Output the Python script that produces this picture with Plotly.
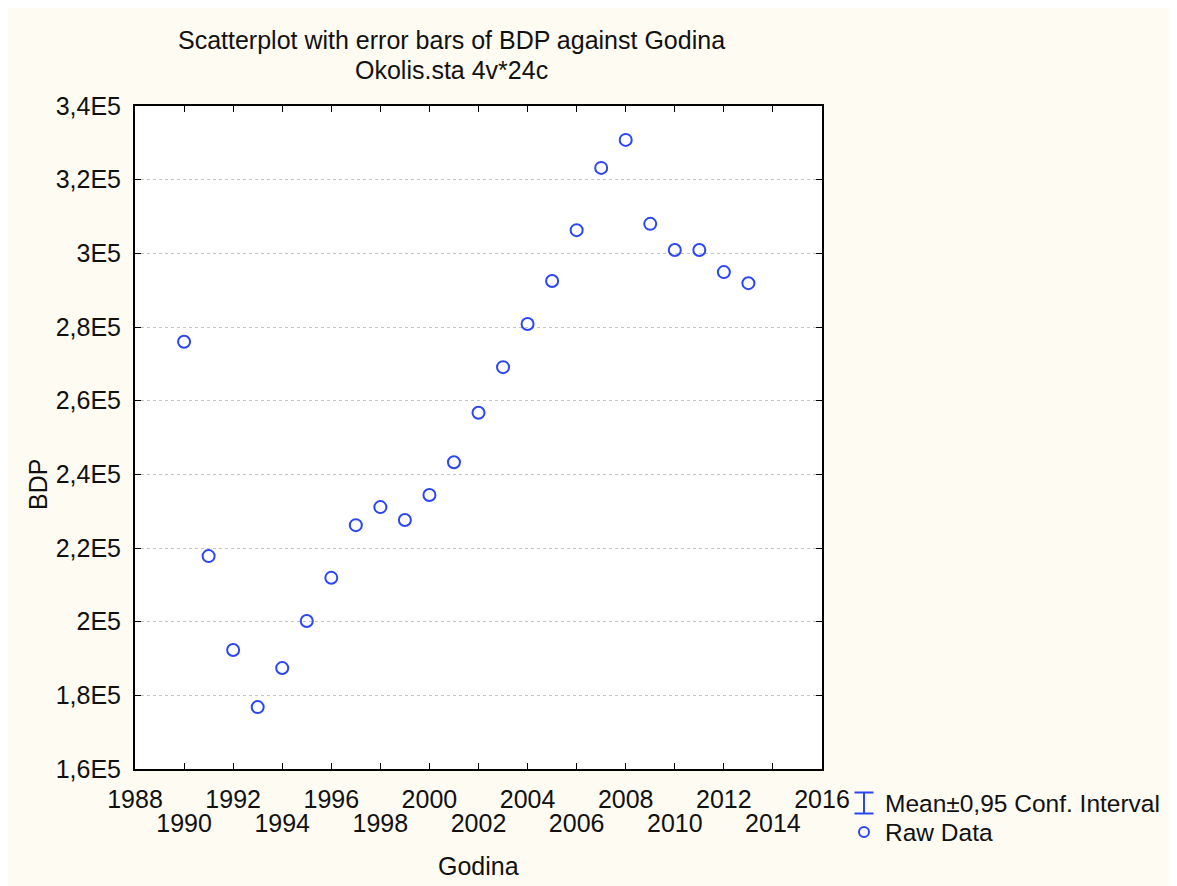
import plotly.graph_objects as go

# ---- data ----
years = [1990, 1991, 1992, 1993, 1994, 1995, 1996, 1997, 1998, 1999, 2000, 2001,
         2002, 2003, 2004, 2005, 2006, 2007, 2008, 2009, 2010, 2011, 2012, 2013]
bdp = [276000, 217800, 192300, 176800, 187400, 200200, 211900, 226200, 231100,
       227600, 234400, 243300, 256700, 269100, 280800, 292500, 306300, 323200,
       330800, 308000, 300900, 300900, 294900, 291900]

x_tick_vals = [1988, 1990, 1992, 1994, 1996, 1998, 2000, 2002, 2004, 2006, 2008,
               2010, 2012, 2014, 2016]
x_tick_row1_vals = [1988, 1992, 1996, 2000, 2004, 2008, 2012, 2016]
x_tick_row1_text = ["1988", "1992", "1996", "2000", "2004", "2008", "2012", "2016"]
x_tick_row2_vals = [1990, 1994, 1998, 2002, 2006, 2010, 2014]
x_tick_row2_text = ["1990", "1994", "1998", "2002", "2006", "2010", "2014"]

y_tick_vals = [160000, 180000, 200000, 220000, 240000, 260000, 280000, 300000,
               320000, 340000]
y_tick_text = ["1,6E5", "1,8E5", "2E5", "2,2E5", "2,4E5", "2,6E5", "2,8E5", "3E5",
               "3,2E5", "3,4E5"]

title_line1 = "Scatterplot with error bars of BDP against Godina"
title_line2 = "Okolis.sta 4v*24c"
legend_labels = ["Mean±0,95 Conf. Interval", "Raw Data"]

# ---- styling ----
W, H = 1177, 886
OFF = 8                      # page body margin
L, T = 127, 98
PW, PH = 687, 663
R = W - L - PW
B = H - T - PH
BLUE = "#2A46F5"
CREAM = "#FDFBF2"
FONT = "Liberation Sans, Arial, sans-serif"
FS = 25
TXT = "#111111"


def px_x(px):
    return (px - OFF - L) / PW


def px_y(py):
    return (OFF + T + PH - py) / PH


row1_text = []
for v in x_tick_vals:
    row1_text.append(x_tick_row1_text[x_tick_row1_vals.index(v)] if v in x_tick_row1_vals else "")

fig = go.Figure()
fig.add_trace(go.Scatter(
    x=years, y=bdp, mode="markers", showlegend=False,
    marker=dict(symbol="circle-open", size=12, color=BLUE, line=dict(width=2, color=BLUE)),
))
fig.add_trace(go.Scatter(x=[], y=[], xaxis="x2", showlegend=False))

fig.update_layout(
    width=W, height=H,
    margin=dict(l=L, r=R, t=T, b=B, autoexpand=False),
    paper_bgcolor=CREAM, plot_bgcolor="white",
    font=dict(family=FONT, size=FS, color=TXT),
    showlegend=False,
    xaxis=dict(
        range=[1988, 2016], tickmode="array", tickvals=x_tick_vals, ticktext=row1_text,
        ticks="inside", ticklen=6, tickwidth=1, tickcolor="black",
        showline=True, linewidth=2, linecolor="black", mirror="ticks",
        showgrid=False, zeroline=False, ticklabelstandoff=7,
        tickfont=dict(size=FS, family=FONT, color=TXT),
    ),
    xaxis2=dict(
        range=[1988, 2016], overlaying="x", anchor="y", side="bottom",
        tickmode="array", tickvals=x_tick_row2_vals, ticktext=x_tick_row2_text,
        ticks="", showline=False, showgrid=False, zeroline=False,
        ticklabelstandoff=37,
        tickfont=dict(size=FS, family=FONT, color=TXT),
    ),
    yaxis=dict(
        range=[160000, 340000], tickmode="array", tickvals=y_tick_vals, ticktext=y_tick_text,
        ticks="inside", ticklen=6, tickwidth=1, tickcolor="black",
        showline=True, linewidth=2, linecolor="black", mirror="ticks",
        showgrid=True, gridcolor="#C4C4C4", griddash="dot", gridwidth=1,
        zeroline=False, ticklabelstandoff=7,
        tickfont=dict(size=FS, family=FONT, color=TXT),
    ),
)

annotations = [
    dict(text=title_line1, x=px_x(451), y=px_y(40), xref="paper", yref="paper",
         xanchor="center", yanchor="middle", showarrow=False, font=dict(size=FS)),
    dict(text=title_line2, x=px_x(451), y=px_y(70), xref="paper", yref="paper",
         xanchor="center", yanchor="middle", showarrow=False, font=dict(size=FS)),
    dict(text="BDP", x=px_x(38), y=px_y(485), xref="paper", yref="paper",
         xanchor="center", yanchor="middle", textangle=-90, showarrow=False, font=dict(size=FS)),
    dict(text="Godina", x=px_x(478), y=px_y(866), xref="paper", yref="paper",
         xanchor="center", yanchor="middle", showarrow=False, font=dict(size=FS)),
    dict(text=legend_labels[0], x=px_x(883), y=px_y(803), xref="paper", yref="paper",
         xanchor="left", yanchor="middle", showarrow=False, font=dict(size=24.5)),
    dict(text=legend_labels[1], x=px_x(883), y=px_y(832), xref="paper", yref="paper",
         xanchor="left", yanchor="middle", showarrow=False, font=dict(size=24.5)),
]
fig.update_layout(annotations=annotations)

lx, ly1, ly2 = px_x(864), px_y(803), px_y(832)
shapes = [
    # legend I-beam
    dict(type="line", xref="paper", yref="paper", xsizemode="pixel", ysizemode="pixel",
         xanchor=lx, yanchor=ly1, x0=0, x1=0, y0=-10.5, y1=10.5, line=dict(color=BLUE, width=2)),
    dict(type="line", xref="paper", yref="paper", xsizemode="pixel", ysizemode="pixel",
         xanchor=lx, yanchor=ly1, x0=-9.5, x1=9.5, y0=10.5, y1=10.5, line=dict(color=BLUE, width=2)),
    dict(type="line", xref="paper", yref="paper", xsizemode="pixel", ysizemode="pixel",
         xanchor=lx, yanchor=ly1, x0=-9.5, x1=9.5, y0=-10.5, y1=-10.5, line=dict(color=BLUE, width=2)),
    # legend circle
    dict(type="circle", xref="paper", yref="paper", xsizemode="pixel", ysizemode="pixel",
         xanchor=lx, yanchor=ly2, x0=-5, x1=5, y0=-5, y1=5, line=dict(color=BLUE, width=2)),
]
fig.update_layout(shapes=shapes)

fig.write_html("out.html", post_script="document.body.style.overflow='hidden';")
